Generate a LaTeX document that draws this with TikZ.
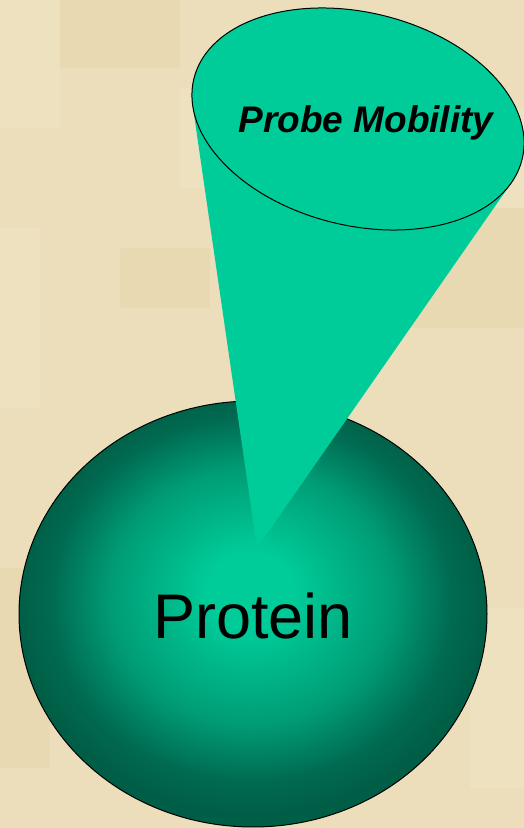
\documentclass[tikz,border=0pt]{standalone}
\usepackage{fontspec}
\setmainfont{Liberation Sans}
\definecolor{parch}{RGB}{236,222,186}
\definecolor{parchdark}{RGB}{226,208,166}
\definecolor{parchlight}{RGB}{243,233,204}
\definecolor{conegreen}{RGB}{0,204,153}
\definecolor{protlight}{RGB}{0,204,153}
\definecolor{protmid}{RGB}{0,156,117}
\definecolor{protdark}{RGB}{0,106,80}
\definecolor{protedge}{RGB}{0,94,70}
\pgfdeclareradialshading{protshade}{\pgfpoint{-0.3bp}{3bp}}{%
  color(0bp)=(protlight); color(4.5bp)=(protlight); color(15bp)=(protmid); color(21.5bp)=(protdark); color(25bp)=(protedge); color(50bp)=(protedge)}
\begin{document}
\begin{tikzpicture}[x=1pt,y=1pt,
  outline/.style={draw=black,line width=1pt},
  lbl/.style={inner sep=0pt,text=black}]
\useasboundingbox (0,0) rectangle (524,828);
% background parchment
\fill[parch] (0,0) rectangle (524,828);
\foreach \x/\y/\w/\h/\c in {0/700/60/128/parchlight,60/760/120/68/parchdark,180/640/60/100/parchlight,400/500/124/120/parchdark,0/420/40/180/parchlight,470/620/54/100/parchlight,0/60/50/200/parchdark,470/40/54/180/parchlight,120/520/90/60/parchdark}
  \fill[\c,opacity=0.35] (\x,\y) rectangle ++(\w,\h);
% protein
\path[outline,shading=protshade] (253,214) ellipse [x radius=234, y radius=213];
\node[lbl,font=\fontsize{63}{70}\selectfont] (protein) at (253,212) {Protein};
% cone
\coordinate (apex) at (257,280);
\coordinate (tl) at (192.7,722.4);
\coordinate (tr) at (511.5,645.4);
\fill[conegreen] (apex) -- (tl) -- (358,709) -- (tr) -- cycle;
\path[outline,fill=conegreen] (358,709) ellipse [x radius=169, y radius=106.5, rotate=-13.8];
\node[lbl,font=\fontsize{37}{40}\selectfont\bfseries\itshape] (probe) at (366,705) {Probe Mobility};
\end{tikzpicture}
\end{document}
